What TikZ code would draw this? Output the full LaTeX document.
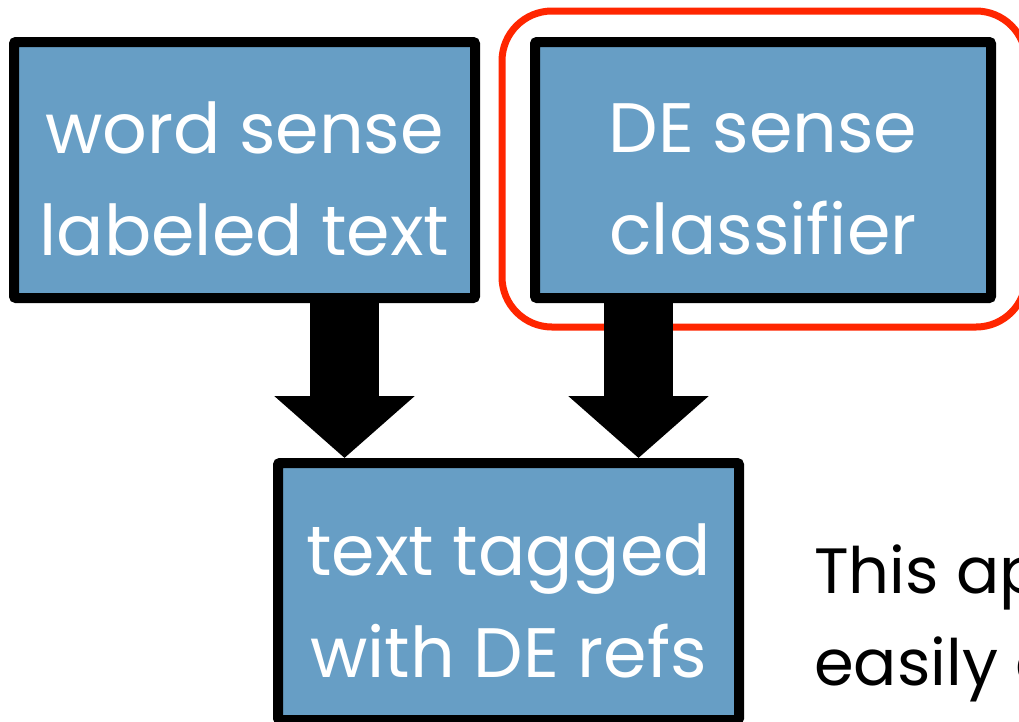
\documentclass[tikz,border=0pt]{standalone}
\usepackage{fontspec}
\setmainfont{Poppins}
\usetikzlibrary{arrows.meta}
\definecolor{boxblue}{HTML}{679EC5}
\definecolor{hired}{HTML}{FF2600}
\tikzset{
  stepbox/.style={draw=black, line width=10pt, fill=boxblue, rounded corners=2pt,
    inner sep=0pt},
  boxlabel/.style={text=white, align=center, inner sep=0pt, yshift=-9pt,
    font=\fontsize{70}{102}\selectfont},
  bigarrow/.style={line width=69pt, -{Triangle[length=62pt, width=137pt]}},
  notetext/.style={anchor=base west, inner sep=0pt, text=black,
    font=\fontsize{64}{92}\selectfont},
}
\begin{document}
\begin{tikzpicture}[x=1pt,y=-1pt]
\useasboundingbox (0,0) rectangle (1019,721);
\clip (0,0) rectangle (1019,721);
\fill[white] (0,0) rectangle (1019,721);
\node[stepbox, minimum width=461pt, minimum height=256pt] (wsl) at (244.5,170) {};
\node[boxlabel] (wsl-t) at (wsl.center) {word sense\\labeled text};
\node[stepbox, minimum width=456pt, minimum height=256pt] (dec) at (763,170) {};
\node[boxlabel] (dec-t) at (dec.center) {DE sense\\classifier};
\node[stepbox, minimum width=461pt, minimum height=257pt] (tag) at (508.5,591.5) {};
\node[boxlabel] (tag-t) at (tag.center) {text tagged\\with DE refs};
\draw[hired, line width=7pt, rounded corners=50pt] (502,11) rectangle (1026,327);
\coordinate (a1s) at (344.5,303);
\coordinate (a2s) at (638.5,303);
\draw[bigarrow] (a1s) -- (a1s |- tag.north);
\draw[bigarrow] (a2s) -- (a2s |- tag.north);
\node[notetext] (n1) at (814,593) {This ap};
\node[notetext] (n2) at (814,685) {easily a};
\end{tikzpicture}
\end{document}
